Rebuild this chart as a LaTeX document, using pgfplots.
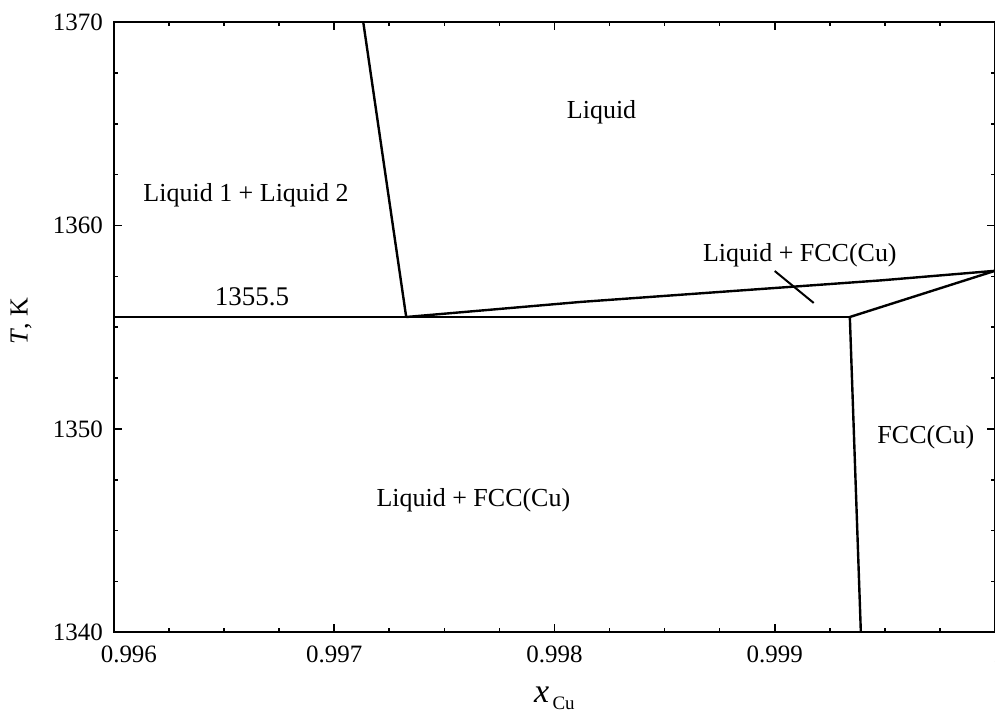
\documentclass[border=0pt]{standalone}
\usepackage{fontspec}
\setmainfont{Liberation Serif}
\usepackage{pgfplots}
\pgfplotsset{compat=1.18}
\begin{document}
\begin{tikzpicture}
\begin{axis}[
  scale only axis,
  width=441pt, height=305.5pt,
  xmin=0.996, xmax=1.000, ymin=1340, ymax=1370,
  xtick={0.996,0.997,0.998,0.999,1.000},
  xticklabels={{\hspace*{15pt}0.996},0.997,0.998,0.999,{\hspace*{26pt}1.000}},
  ytick={1340,1350,1360,1370},
  yticklabels={1340,1350,1360,1370},
  minor x tick num=3,
  minor y tick num=3,
  tick align=inside,
  major tick length=4pt,
  minor tick length=2.2pt,
  every tick/.style={black, line width=0.8pt},
  axis line style={line width=1pt},
  ticklabel style={font=\fontsize{12.5}{14}\selectfont},
  xticklabel style={yshift=-3pt},
  yticklabel style={xshift=-2pt},
  every axis x label/.style={at={(axis description cs:0.5,-0.1146)}, anchor=base},
  every axis y label/.style={at={(axis description cs:-0.1054,0.51)}, anchor=center, rotate=90},
  xlabel={{\fontsize{17}{17}\selectfont\itshape x}\,\raisebox{-3.5pt}{\fontsize{9.5}{10}\selectfont Cu}},
  ylabel={\fontsize{13}{14}\selectfont\textit{T}, K},
]
\addplot[black, line width=1.2pt] coordinates {(0.997132,1370) (0.997327,1355.5)};
\addplot[black, line width=1.2pt] coordinates {(0.996,1355.5) (0.999341,1355.5)};
\addplot[black, line width=1.2pt] coordinates {(0.997327,1355.5) (0.998118,1356.24) (0.999482,1357.30) (1.000,1357.77)};
\addplot[black, line width=1.2pt] coordinates {(0.999341,1355.5) (1.000,1357.77)};
\addplot[black, line width=1.2pt] coordinates {(0.999341,1355.5) (0.999391,1340)};
\addplot[black, line width=1.0pt] coordinates {(0.999000,1357.76) (0.999177,1356.19)};
\node[font=\fontsize{13}{14}\selectfont] at (axis cs:0.998214,1365.58) {Liquid};
\node[font=\fontsize{13}{14}\selectfont] at (axis cs:0.9966,1361.5) {Liquid 1 + Liquid 2};
\node[font=\fontsize{13}{14}\selectfont] at (axis cs:0.999114,1358.55) {Liquid + FCC(Cu)};
\node[font=\fontsize{13.5}{14}\selectfont] at (axis cs:0.996627,1356.49) {1355.5};
\node[font=\fontsize{13}{14}\selectfont] at (axis cs:0.999686,1349.6) {FCC(Cu)};
\node[font=\fontsize{13}{14}\selectfont] at (axis cs:0.997632,1346.5) {Liquid + FCC(Cu)};
\end{axis}
\pgfresetboundingbox
\path[use as bounding box] ([xshift=-57pt,yshift=-40pt]current axis.south west) rectangle ([yshift=11pt]current axis.north east);
\end{tikzpicture}
\end{document}
